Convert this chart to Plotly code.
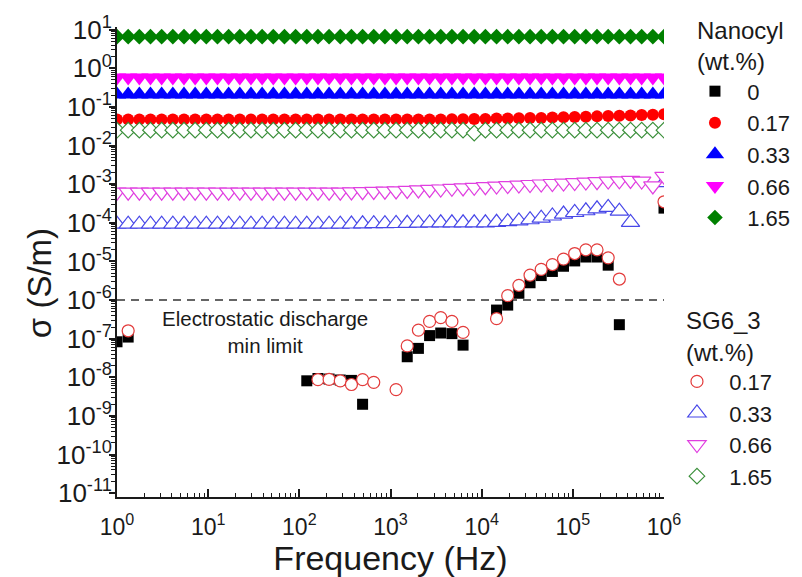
import plotly.graph_objects as go

# ---------------- data ----------------
freq = [1, 1.326, 1.758, 2.330, 3.089, 4.095, 5.429, 7.197, 9.541, 12.65,
        16.77, 22.23, 29.47, 39.07, 51.79, 68.66, 91.03, 120.7, 160.0, 212.1,
        281.2, 372.8, 494.2, 655.1, 868.6, 1151, 1526, 2024, 2683, 3556,
        4715, 6251, 8286, 10985, 14563, 19307, 25595, 33932, 44984, 59636,
        79060, 104811, 138950, 184207, 244205, 323746, 429193, 568987, 754312, 1000000]

# Nanocyl (filled symbols)
nano_000 = [8.3e-8, 1.1e-7, None, None, None, None, None, None, None, None,
            None, None, None, None, None, None, None, 8.1e-9, 9.3e-9, 9.0e-9,
            8.5e-9, 8.3e-9, 2.0e-9, None, None, None, 3.4e-8, 5.6e-8, 1.2e-7, 1.4e-7,
            1.35e-7, 6.8e-8, None, None, 5.5e-7, 7.4e-7, 1.5e-6, 2.8e-6, 4.3e-6, 5.5e-6,
            7.5e-6, 1.03e-5, 1.3e-5, 1.3e-5, 8.0e-6, 2.3e-7, None, None, None, 2.4e-4]
nano_017 = [0.047, 0.047, 0.047, 0.047, 0.047, 0.047, 0.047, 0.047, 0.047, 0.047,
            0.047, 0.047, 0.047, 0.047, 0.047, 0.047, 0.047, 0.047, 0.047, 0.047,
            0.047, 0.047, 0.047, 0.047, 0.047, 0.047, 0.047, 0.047, 0.047, 0.047,
            0.048, 0.048, 0.049, 0.049, 0.050, 0.050, 0.051, 0.052, 0.052, 0.053,
            0.054, 0.055, 0.056, 0.057, 0.058, 0.059, 0.060, 0.062, 0.063, 0.065]
nano_033 = [0.21, 0.21, 0.21, 0.21, 0.21, 0.21, 0.21, 0.21, 0.21, 0.21,
            0.21, 0.21, 0.21, 0.21, 0.21, 0.21, 0.21, 0.21, 0.21, 0.21,
            0.21, 0.21, 0.21, 0.21, 0.21, 0.21, 0.21, 0.21, 0.21, 0.21,
            0.21, 0.21, 0.21, 0.21, 0.21, 0.21, 0.21, 0.21, 0.21, 0.21,
            0.21, 0.21, 0.21, 0.21, 0.21, 0.21, 0.21, 0.21, 0.21, 0.21]
nano_066 = [0.58, 0.58, 0.58, 0.58, 0.58, 0.58, 0.58, 0.58, 0.58, 0.58,
            0.58, 0.58, 0.58, 0.58, 0.58, 0.58, 0.58, 0.58, 0.58, 0.58,
            0.58, 0.58, 0.58, 0.58, 0.58, 0.58, 0.58, 0.58, 0.58, 0.58,
            0.58, 0.58, 0.58, 0.58, 0.58, 0.58, 0.58, 0.58, 0.58, 0.58,
            0.58, 0.58, 0.58, 0.58, 0.58, 0.58, 0.58, 0.58, 0.58, 0.58]
nano_165 = [6.6, 6.6, 6.6, 6.6, 6.6, 6.6, 6.6, 6.6, 6.6, 6.6,
            6.6, 6.6, 6.6, 6.6, 6.6, 6.6, 6.6, 6.6, 6.6, 6.6,
            6.6, 6.6, 6.6, 6.6, 6.6, 6.6, 6.6, 6.6, 6.6, 6.6,
            6.6, 6.6, 6.6, 6.6, 6.6, 6.6, 6.6, 6.6, 6.6, 6.6,
            6.6, 6.6, 6.6, 6.6, 6.6, 6.6, 6.6, 6.6, 6.6, 6.6]

# SG6_3 (open symbols)
sg_017 = [None, 1.6e-7, None, None, None, None, None, None, None, None,
          None, None, None, None, None, None, None, None, 8.7e-9, 8.8e-9,
          8.1e-9, 6.5e-9, 8.7e-9, 7.4e-9, None, 4.8e-9, 6.5e-8, 1.66e-7, 2.8e-7, 3.5e-7,
          2.8e-7, 1.45e-7, None, None, 3.3e-7, 1.3e-6, 2.4e-6, 4.4e-6, 6.2e-6, 8.3e-6,
          1.15e-5, 1.6e-5, 2.0e-5, 2.0e-5, 1.24e-5, 3.5e-6, None, None, None, 3.5e-4]
sg_033 = [9.2e-5, 9.2e-5, 9.2e-5, 9.2e-5, 9.2e-5, 9.2e-5, 9.2e-5, 9.2e-5, 9.2e-5, 9.2e-5,
          9.2e-5, 9.2e-5, 9.2e-5, 9.2e-5, 9.2e-5, 9.2e-5, 9.2e-5, 9.2e-5, 9.2e-5, 9.2e-5,
          9.2e-5, 9.3e-5, 9.4e-5, 9.5e-5, 9.5e-5, 9.6e-5, 9.7e-5, 9.8e-5, 9.9e-5, 1.0e-4,
          1.0e-4, 1.0e-4, 1.0e-4, 1.0e-4, 1.03e-4, 1.07e-4, 1.12e-4, 1.2e-4, 1.32e-4, 1.5e-4,
          1.68e-4, 1.85e-4, 2.05e-4, 2.3e-4, 2.5e-4, 2.0e-4, 1.02e-4, None, None, 1.1e-3]
sg_066 = [6.2e-4, 6.2e-4, 6.2e-4, 6.2e-4, 6.2e-4, 6.2e-4, 6.2e-4, 6.2e-4, 6.2e-4, 6.2e-4,
          6.2e-4, 6.2e-4, 6.2e-4, 6.2e-4, 6.2e-4, 6.2e-4, 6.2e-4, 6.2e-4, 6.2e-4, 6.2e-4,
          6.2e-4, 6.3e-4, 6.4e-4, 6.5e-4, 6.6e-4, 6.7e-4, 6.9e-4, 7.1e-4, 7.3e-4, 7.5e-4,
          7.8e-4, 8.0e-4, 8.3e-4, 8.6e-4, 8.9e-4, 9.2e-4, 9.5e-4, 9.8e-4, 1.01e-3, 1.04e-3,
          1.07e-3, 1.1e-3, 1.13e-3, 1.16e-3, 1.2e-3, 1.22e-3, 1.25e-3, 1.2e-3, 9.0e-4, 1.6e-3]
sg_165 = [0.025, 0.025, 0.025, 0.025, 0.025, 0.025, 0.025, 0.025, 0.025, 0.025,
          0.025, 0.025, 0.025, 0.025, 0.025, 0.025, 0.025, 0.025, 0.025, 0.025,
          0.025, 0.025, 0.025, 0.025, 0.025, 0.025, 0.025, 0.025, 0.025, 0.025,
          0.025, 0.025, 0.021, 0.025, 0.025, 0.025, 0.025, 0.025, 0.025, 0.025,
          0.025, 0.025, 0.025, 0.025, 0.025, 0.025, 0.025, 0.025, 0.025, 0.025]

esd_limit = 1e-6
esd_x = [1, 1e6]

nano_labels = ["0", "0.17", "0.33", "0.66", "1.65"]
sg_labels = ["0.17", "0.33", "0.66", "1.65"]

x_tick_vals = [1, 10, 100, 1e3, 1e4, 1e5, 1e6]
x_tick_text = ["10<sup>0</sup>", "10<sup>1</sup>", "10<sup>2</sup>", "10<sup>3</sup>",
               "10<sup>4</sup>", "10<sup>5</sup>", "10<sup>6</sup>"]
y_tick_vals = [1e1, 1e0, 1e-1, 1e-2, 1e-3, 1e-4, 1e-5, 1e-6, 1e-7, 1e-8, 1e-9, 1e-10, 1e-11]
y_tick_text = ["10<sup>1</sup>", "10<sup>0</sup>", "10<sup>-1</sup>", "10<sup>-2</sup>",
               "10<sup>-3</sup>", "10<sup>-4</sup>", "10<sup>-5</sup>", "10<sup>-6</sup>",
               "10<sup>-7</sup>", "10<sup>-8</sup>", "10<sup>-9</sup>", "10<sup>-10</sup>",
               "10<sup>-11</sup>"]

# ---------------- figure ----------------
FONT = "Arial, Liberation Sans, sans-serif"
TXT = "#1a1a1a"
PAD = "\u00a0\u00a0"

fig = go.Figure()

fig.add_trace(go.Scatter(x=esd_x, y=[esd_limit, esd_limit], mode="lines",
                         line=dict(color="#333333", width=1.6, dash="8px,6px"),
                         showlegend=False, hoverinfo="skip"))

nano_series = [nano_000, nano_017, nano_033, nano_066, nano_165]
nano_style = [("square", "#000000", 11), ("circle", "#ff0000", 12),
              ("triangle-up", "#0000ff", 16), ("triangle-down", "#ff00ff", 16),
              ("diamond", "#008000", 12)]
for vals, lab, (sym, col, sz) in zip(nano_series, nano_labels, nano_style):
    fig.add_trace(go.Scatter(x=freq, y=vals, mode="markers", name=PAD + lab, legend="legend",
                             marker=dict(symbol=sym, color=col, size=sz, line=dict(width=0))))

sg_series = [sg_017, sg_033, sg_066, sg_165]
sg_style = [("circle", "#e33b3b", 12), ("triangle-up", "#4747e8", 16),
            ("triangle-down", "#e03fe0", 16), ("diamond", "#3a8f3a", 12)]
for vals, lab, (sym, col, sz) in zip(sg_series, sg_labels, sg_style):
    fig.add_trace(go.Scatter(x=freq, y=vals, mode="markers", name=PAD + lab, legend="legend2",
                             marker=dict(symbol=sym, color="white", size=sz,
                                         line=dict(color=col, width=1.2))))

minor_x = [k * 10 ** e for e in range(0, 6) for k in range(2, 10)]
minor_y = [k * 10.0 ** e for e in range(-11, 1) for k in range(2, 10)]

axis_common = dict(type="log", showgrid=False, zeroline=False, showline=True,
                   linewidth=2, linecolor="#1a1a1a", tickcolor="#1a1a1a",
                   tickwidth=1.5, mirror=False, automargin=False)

# the page body adds an 8 px offset; the figure is sized so the plot lands where the reference has it
fig.update_layout(
    template="none",
    width=794, height=569,
    margin=dict(l=109, r=138, t=19, b=80, autoexpand=False),
    paper_bgcolor="white", plot_bgcolor="white",
    font=dict(family=FONT, color=TXT),
    xaxis=dict(range=[0, 6], tickmode="array", tickvals=x_tick_vals, ticktext=x_tick_text,
               ticks="inside", ticklen=8, ticklabelstandoff=8,
               tickfont=dict(family=FONT, size=23, color=TXT),
               minor=dict(tickmode="array", tickvals=minor_x, ticks="inside", ticklen=4,
                          tickwidth=1, tickcolor="#1a1a1a"),
               title=dict(text="Frequency (Hz)", font=dict(family=FONT, size=34, color=TXT),
                          standoff=12),
               **axis_common),
    yaxis=dict(range=[-11.1, 1.07], tickmode="array", tickvals=y_tick_vals, ticktext=y_tick_text,
               ticks="outside", ticklen=6, ticklabelstandoff=-8,
               tickfont=dict(family=FONT, size=26, color=TXT),
               minor=dict(tickmode="array", tickvals=minor_y, ticks="outside", ticklen=4,
                          tickwidth=1, tickcolor="#1a1a1a"),
               **axis_common),
    legend=dict(title=dict(text="Nanocyl<br>(wt.%)", font=dict(family=FONT, size=24, color=TXT)),
                font=dict(family=FONT, size=22, color=TXT),
                x=1.0566, y=1.0405, xanchor="left", yanchor="top",
                bgcolor="rgba(0,0,0,0)", borderwidth=0, tracegroupgap=0),
    legend2=dict(title=dict(text="SG6_3<br>(wt.%)", font=dict(family=FONT, size=24, color=TXT)),
                 font=dict(family=FONT, size=22, color=TXT),
                 x=1.0365, y=0.423, xanchor="left", yanchor="top", indentation=-7,
                 bgcolor="rgba(0,0,0,0)", borderwidth=0, tracegroupgap=0),
    annotations=[
        dict(text="σ (S/m)", textangle=-90, xref="paper", yref="paper",
             x=-0.1426, y=0.455, xanchor="center", yanchor="middle", showarrow=False,
             font=dict(family=FONT, size=33, color=TXT)),
        dict(text="Electrostatic discharge<br>min limit", xref="paper", yref="paper",
             x=0.2706, y=0.352, xanchor="center", yanchor="middle", showarrow=False,
             align="center", font=dict(family=FONT, size=20.5, color=TXT)),
    ],
)

fig.write_html("out.html")
